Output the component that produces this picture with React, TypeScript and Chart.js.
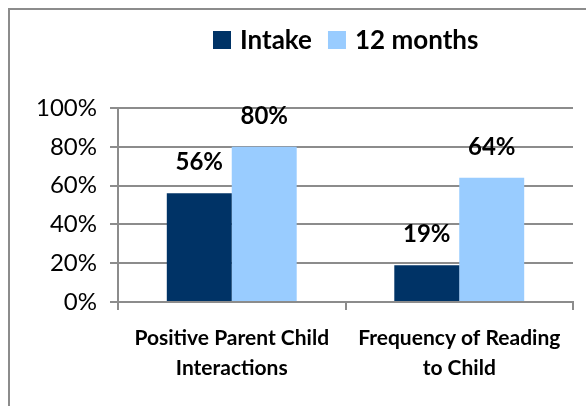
import React, { useEffect, useRef } from "react";
import { Chart, registerables } from "chart.js";

Chart.register(...registerables);

const categories: string[][] = [
  ["Positive Parent Child", "Interactions"],
  ["Frequency of Reading", "to Child"],
];
const seriesNames = ["Intake", "12 months"];
const intakeValues = [56, 19];
const twelveMonthValues = [80, 64];
const seriesColors = ["#003366", "#99CCFF"];
const yTicks = [0, 20, 40, 60, 80, 100];

const FONT = "Lato, 'Open Sans', sans-serif";

const framePlugin = {
  id: "frame",
  beforeDraw(chart: any) {
    const { ctx, width, height } = chart;
    ctx.save();
    ctx.fillStyle = "#ffffff";
    ctx.fillRect(0, 0, width, height);
    ctx.strokeStyle = "#8c8c8c";
    ctx.lineWidth = 2;
    ctx.beginPath();
    ctx.moveTo(9, height);
    ctx.lineTo(9, 9);
    ctx.lineTo(width, 9);
    ctx.stroke();
    ctx.restore();
  },
};

const legendPlugin = {
  id: "customLegend",
  afterDraw(chart: any) {
    const { ctx } = chart;
    ctx.save();
    ctx.font = `bold 26px ${FONT}`;
    ctx.textBaseline = "alphabetic";
    ctx.textAlign = "left";
    let x = 213;
    chart.data.datasets.forEach((ds: any) => {
      ctx.fillStyle = ds.backgroundColor;
      ctx.fillRect(x, 31, 18, 18);
      ctx.fillStyle = "#000000";
      ctx.fillText(ds.label, x + 27, 49);
      x += 27 + ctx.measureText(ds.label).width + 16;
    });
    ctx.restore();
  },
};

const dataLabelPlugin = {
  id: "dataLabels",
  afterDatasetsDraw(chart: any) {
    const { ctx } = chart;
    ctx.save();
    ctx.font = `bold 24px ${FONT}`;
    ctx.fillStyle = "#000000";
    ctx.textAlign = "center";
    ctx.textBaseline = "alphabetic";
    chart.data.datasets.forEach((ds: any, i: number) => {
      const meta = chart.getDatasetMeta(i);
      meta.data.forEach((bar: any, j: number) => {
        ctx.fillText(`${ds.data[j]}%`, bar.x, bar.y - 23);
      });
    });
    ctx.restore();
  },
};

export default function App() {
  const ref = useRef<HTMLCanvasElement | null>(null);
  useEffect(() => {
    if (!ref.current) return;
    const chart = new Chart(ref.current, {
      type: "bar",
      data: {
        labels: categories,
        datasets: [
          {
            label: seriesNames[0],
            data: intakeValues,
            backgroundColor: seriesColors[0],
            categoryPercentage: 0.571,
            barPercentage: 1,
          },
          {
            label: seriesNames[1],
            data: twelveMonthValues,
            backgroundColor: seriesColors[1],
            categoryPercentage: 0.571,
            barPercentage: 1,
          },
        ],
      },
      options: {
        responsive: false,
        devicePixelRatio: 1,
        animation: false,
        layout: { padding: { left: 0, right: 13, top: 108, bottom: 0 } },
        plugins: {
          legend: { display: false },
          tooltip: { enabled: false },
        },
        scales: {
          x: {
            afterFit(scale: any) {
              scale.height = 104;
            },
            grid: {
              offset: true,
              drawOnChartArea: false,
              drawTicks: true,
              tickLength: 8,
              color: "#8c8c8c",
              lineWidth: 2,
            },
            border: { display: true, color: "#8c8c8c", width: 2 },
            ticks: {
              color: "#000000",
              font: { family: FONT, size: 21, weight: "bold", lineHeight: "30px" },
              padding: 13,
              maxRotation: 0,
              autoSkip: false,
            },
          },
          y: {
            min: 0,
            max: 100,
            afterFit(scale: any) {
              scale.width = 118;
            },
            afterBuildTicks(scale: any) {
              scale.ticks = yTicks.map((v) => ({ value: v }));
            },
            grid: {
              color: "#8c8c8c",
              lineWidth: 2,
              tickLength: 8,
              drawTicks: true,
            },
            border: { display: true, color: "#8c8c8c", width: 2 },
            ticks: {
              color: "#000000",
              font: { family: FONT, size: 24 },
              padding: 13,
              callback: (v: any) => `${v}%`,
            },
          },
        },
      },
      plugins: [framePlugin, legendPlugin, dataLabelPlugin],
    });
    return () => chart.destroy();
  }, []);
  return (
    <div style={{ position: "absolute", left: 0, top: 0, width: 586, height: 406 }}>
      <canvas ref={ref} width={586} height={406} style={{ display: "block" }} />
    </div>
  );
}
